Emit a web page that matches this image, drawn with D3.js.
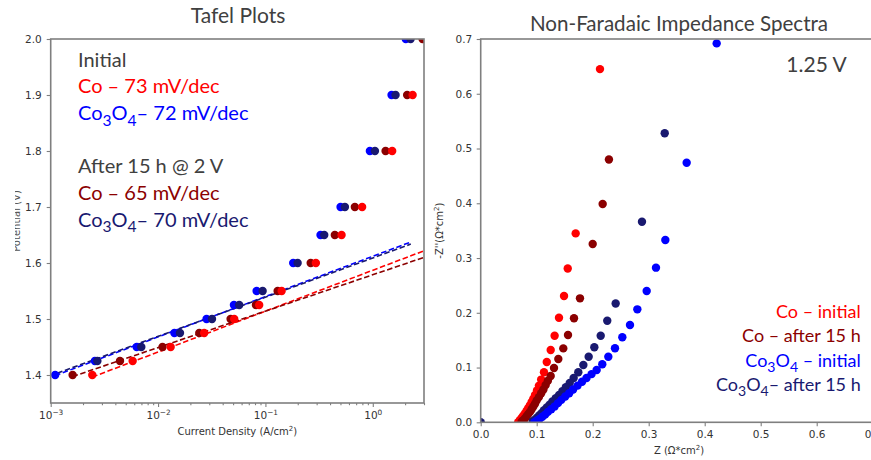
<!DOCTYPE html>
<html>
<head>
<meta charset="utf-8">
<script src="https://cdn.jsdelivr.net/npm/d3@7/dist/d3.min.js"></script>
<style>
  body { margin: 0; background: #fff; }
  svg { display: block; }
</style>
</head>
<body>
<svg id="fig" width="871" height="460"></svg>
<script>
// ---------------- Tafel data (potential in V, current density in A/cm²) ----------------
const tafelPotentials = [1.4, 1.425, 1.45, 1.475, 1.5, 1.525, 1.55, 1.6, 1.65, 1.7, 1.8, 1.9, 2.0];
const tafelCoInitial     = [2.44e-3, 5.8e-3, 1.31e-2, 2.69e-2, 5.12e-2, 8.75e-2, 0.1416, 0.295, 0.512, 0.796, 1.516, 2.35, 3.3];
const tafelCoAfter       = [1.6e-3, 4.42e-3, 1.10e-2, 2.42e-2, 4.74e-2, 8.16e-2, 0.130, 0.264, 0.443, 0.681, 1.316, 2.09, 2.91];
const tafelCo3O4Initial  = [1.10e-3, 2.58e-3, 6.32e-3, 1.42e-2, 2.83e-2, 5.09e-2, 8.28e-2, 0.1815, 0.326, 0.501, 0.940, 1.496, 2.03];
const tafelCo3O4After    = [8.0e-4, 2.72e-3, 6.98e-3, 1.60e-2, 3.18e-2, 5.70e-2, 9.42e-2, 0.1995, 0.353, 0.550, 1.047, 1.63, 2.25];

// Tafel fits: slope in mV/dec, intercept (V at 1 A/cm²), fitted current range
const tafelSlopes     = [73, 65, 72, 70];
const tafelIntercepts = [1.587, 1.579, 1.612, 1.609];
const tafelFitStart   = [2.44e-3, 1.6e-3, 1.1e-3, 1.15e-3];
const tafelFitEnd     = [3.0, 3.0, 2.26, 2.26];

const tafelVoltTicks = [1.4, 1.5, 1.6, 1.7, 1.8, 1.9, 2.0];
const tafelCurrentTicks = [1e-3, 1e-2, 1e-1, 1];

// ---------------- Non-Faradaic impedance data at 1.25 V (Ω·cm²) ----------------
const zReCoInitial = [0.213, 0.1696, 0.1554, 0.1488, 0.1398, 0.132, 0.125, 0.118, 0.113, 0.108, 0.104, 0.1005, 0.097, 0.094, 0.091, 0.088, 0.085, 0.082, 0.079, 0.076, 0.073, 0.070, 0.067];
const zImCoInitial = [0.645, 0.345, 0.281, 0.2306, 0.191, 0.158, 0.132, 0.110, 0.0913, 0.078, 0.067, 0.058, 0.050, 0.043, 0.037, 0.031, 0.026, 0.021, 0.016, 0.012, 0.008, 0.004, 0.000];

const zReCoAfter = [0.229, 0.2178, 0.200, 0.1773, 0.1666, 0.1559, 0.1475, 0.1386, 0.1309, 0.125, 0.120, 0.116, 0.112, 0.108, 0.104, 0.100, 0.097, 0.094, 0.091, 0.088, 0.085, 0.082, 0.079, 0.076, 0.073];
const zImCoAfter = [0.480, 0.3987, 0.3256, 0.2264, 0.190, 0.1594, 0.135, 0.1156, 0.0991, 0.0845, 0.076, 0.068, 0.060, 0.053, 0.046, 0.040, 0.034, 0.029, 0.024, 0.019, 0.015, 0.011, 0.007, 0.004, 0.001];

const zReCo3O4Initial = [0.4214, 0.3678, 0.3297, 0.313, 0.2964, 0.2797, 0.2666, 0.2529, 0.2398, 0.2279, 0.2171, 0.2071, 0.198, 0.189, 0.181, 0.173, 0.165, 0.158, 0.151, 0.144, 0.138, 0.132, 0.126, 0.120, 0.115, 0.110, 0.105, 0.100, 0.096];
const zImCo3O4Initial = [0.692, 0.474, 0.333, 0.2824, 0.2398, 0.2063, 0.1777, 0.1552, 0.1351, 0.1198, 0.1059, 0.0955, 0.088, 0.081, 0.074, 0.067, 0.060, 0.053, 0.047, 0.041, 0.035, 0.029, 0.024, 0.019, 0.014, 0.010, 0.006, 0.003, 0.000];

const zReCo3O4After = [0.3286, 0.288, 0.241, 0.226, 0.2143, 0.2029, 0.1928, 0.1833, 0.1743, 0.166, 0.159, 0.152, 0.146, 0.140, 0.134, 0.128, 0.123, 0.118, 0.113, 0.109, 0.105, 0.101, 0.097, 0.093, 0.0];
const zImCo3O4After = [0.5278, 0.3663, 0.217, 0.1855, 0.158, 0.137, 0.1198, 0.1046, 0.0913, 0.081, 0.072, 0.064, 0.057, 0.050, 0.044, 0.038, 0.032, 0.027, 0.022, 0.017, 0.013, 0.009, 0.005, 0.002, 0.0];

const impedanceTicks = [0, 0.1, 0.2, 0.3, 0.4, 0.5, 0.6, 0.7];

// ---------------- styling ----------------
const C_RED = "#ff0000", C_DRED = "#8b0000", C_BLUE = "#0000ff", C_NAVY = "#191970";
const C_GRAY_TEXT = "#404040";
const SPINE = "#7f7f7f";
const TICK_FONT = "DejaVu Sans, sans-serif";
const NOTE_FONT = "Lato, 'Open Sans', sans-serif";

const svg = d3.select("#fig");
svg.append("rect").attr("width", 871).attr("height", 460).attr("fill", "#fff");
const defs = svg.append("defs");

// rich text helper: parts = [[string, "n"|"sub"|"sup"|"nsub"|"nsup"], ...]
function rich(sel, parts, size, subScale) {
  const sc = subScale || 0.7;
  parts.forEach(([s, kind]) => {
    const t = sel.append("tspan").text(s);
    if (kind === "sub") t.attr("dy", (0.28 * size) + "px").attr("font-size", (size * sc) + "px");
    if (kind === "sup") t.attr("dy", (-0.42 * size) + "px").attr("font-size", (size * 0.7) + "px");
    if (kind === "nsub") t.attr("dy", (-0.28 * size) + "px");
    if (kind === "nsup") t.attr("dy", (0.42 * size) + "px");
  });
  return sel;
}

function styleAxis(g) {
  g.select(".domain").remove();
  g.selectAll(".tick line").attr("stroke", SPINE).attr("stroke-width", 1.1);
  g.selectAll(".tick text").attr("fill", "#333").attr("font-family", TICK_FONT).attr("font-size", "10.5px");
}

function frame(x0, y0, x1, y1) {
  svg.append("rect").attr("x", x0).attr("y", y0).attr("width", x1 - x0).attr("height", y1 - y0)
    .attr("fill", "none").attr("stroke", SPINE).attr("stroke-width", 1.6);
}

// ================= Left panel: Tafel plots =================
const L = { x0: 50.7, x1: 424, y0: 39, y1: 403 };
const xL = d3.scaleLog().domain([1e-3, 3]).range([L.x0, L.x1]);
const yL = d3.scaleLinear().domain([1.35, 2.0]).range([L.y1, L.y0]);

defs.append("clipPath").attr("id", "clipL").append("rect")
  .attr("x", L.x0).attr("y", L.y0).attr("width", L.x1 - L.x0).attr("height", L.y1 - L.y0);

// minor log ticks
const minorTicks = [];
[1e-3, 1e-2, 1e-1, 1].forEach(dec => { for (let k = 2; k <= 9; k++) { const v = dec * k; if (v <= 3) minorTicks.push(v); } });
svg.append("g").attr("transform", `translate(0,${L.y1})`)
  .call(d3.axisBottom(xL).tickValues(minorTicks).tickSize(2.2).tickFormat(() => ""))
  .call(styleAxis);

const gxL = svg.append("g").attr("transform", `translate(0,${L.y1})`)
  .call(d3.axisBottom(xL).tickValues(tafelCurrentTicks).tickSize(4).tickPadding(4.5).tickFormat(() => ""))
  .call(styleAxis);
gxL.selectAll(".tick text").each(function (d) {
  const e = Math.round(Math.log10(d));
  const t = d3.select(this).text(null);
  rich(t, [["10", "n"], [e < 0 ? "\u2212" + (-e) : String(e), "sup"]], 10.5);
});

svg.append("g").attr("transform", `translate(${L.x0},0)`)
  .call(d3.axisLeft(yL).tickValues(tafelVoltTicks).tickSize(4).tickPadding(5).tickFormat(d3.format(".1f")))
  .call(styleAxis);

// fit lines
const tafelColors = [C_RED, C_DRED, C_BLUE, C_NAVY];
const fitG = svg.append("g").attr("clip-path", "url(#clipL)");
tafelSlopes.forEach((s, i) => {
  const f = j => tafelIntercepts[i] + (s / 1000) * Math.log10(j);
  fitG.append("line")
    .attr("x1", xL(tafelFitStart[i])).attr("y1", yL(f(tafelFitStart[i])))
    .attr("x2", xL(tafelFitEnd[i])).attr("y2", yL(f(tafelFitEnd[i])))
    .attr("stroke", tafelColors[i]).attr("stroke-width", 1.6)
    .attr("stroke-dasharray", "5.5,2.6");
});

// data markers (after-series sit on top of their initial pair)
const tafelSeries = [
  { j: tafelCo3O4Initial, c: C_BLUE },
  { j: tafelCo3O4After, c: C_NAVY },
  { j: tafelCoAfter, c: C_DRED },
  { j: tafelCoInitial, c: C_RED }
];
const ptsL = svg.append("g").attr("clip-path", "url(#clipL)");
tafelSeries.forEach(s => {
  ptsL.selectAll(null).data(tafelPotentials.map((v, k) => [s.j[k], v])).enter()
    .append("circle")
    .attr("cx", d => xL(d[0])).attr("cy", d => yL(d[1])).attr("r", 4.2)
    .attr("fill", s.c);
});

frame(L.x0, L.y0, L.x1, L.y1);

// axis labels & title
rich(svg.append("text").attr("x", (L.x0 + L.x1) / 2).attr("y", 435).attr("text-anchor", "middle")
  .attr("font-family", TICK_FONT).attr("font-size", "10px").attr("fill", "#333"),
  [["Current Density (A/cm", "n"], ["2", "sup"], [")", "nsup"]], 10);

// y label sits partly under the page margin, so only its lower strip shows
defs.append("clipPath").attr("id", "clipYL").append("rect").attr("x", 15).attr("y", 0).attr("width", 30).attr("height", 460);
svg.append("g").attr("clip-path", "url(#clipYL)")
  .append("text")
  .attr("transform", `translate(20,${(L.y0 + L.y1) / 2}) rotate(-90)`)
  .attr("text-anchor", "middle").attr("font-family", TICK_FONT).attr("font-size", "10px").attr("fill", "#555")
  .text("Potential (V)");

svg.append("text").attr("x", 238).attr("y", 22.7).attr("text-anchor", "middle")
  .attr("font-family", NOTE_FONT).attr("font-size", "21px").attr("fill", C_GRAY_TEXT).text("Tafel Plots");

// in-plot annotation
const noteSize = 20;
const notes = [
  { y: 66.7, c: C_GRAY_TEXT, parts: [["Initial", "n"]] },
  { y: 93.3, c: C_RED, parts: [["Co \u2013 " + tafelSlopes[0] + " mV/dec", "n"]] },
  { y: 120, c: C_BLUE, parts: [["Co", "n"], ["3", "sub"], ["O", "nsub"], ["4", "sub"], ["\u2013 " + tafelSlopes[2] + " mV/dec", "nsub"]] },
  { y: 173.3, c: C_GRAY_TEXT, parts: [["After 15 h @ 2 V", "n"]] },
  { y: 200, c: C_DRED, parts: [["Co \u2013 " + tafelSlopes[1] + " mV/dec", "n"]] },
  { y: 226.7, c: C_NAVY, parts: [["Co", "n"], ["3", "sub"], ["O", "nsub"], ["4", "sub"], ["\u2013 " + tafelSlopes[3] + " mV/dec", "nsub"]] }
];
notes.forEach(n => {
  rich(svg.append("text").attr("x", 78).attr("y", n.y).attr("font-family", NOTE_FONT)
    .attr("font-size", noteSize + "px").attr("fill", n.c), n.parts, noteSize, 0.78);
});

// ================= Right panel: impedance spectra =================
const R = { x0: 480.7, x1: 872.7, y0: 39, y1: 422.3 };
const xR = d3.scaleLinear().domain([0, 0.7]).range([R.x0, R.x1]);
const yR = d3.scaleLinear().domain([0, 0.7]).range([R.y1, R.y0]);

defs.append("clipPath").attr("id", "clipR").append("rect")
  .attr("x", R.x0).attr("y", R.y0).attr("width", R.x1 - R.x0).attr("height", R.y1 - R.y0);

svg.append("g").attr("transform", `translate(0,${R.y1})`)
  .call(d3.axisBottom(xR).tickValues(impedanceTicks).tickSize(4).tickPadding(4.5).tickFormat(d3.format(".1f")))
  .call(styleAxis);
svg.append("g").attr("transform", `translate(${R.x0},0)`)
  .call(d3.axisLeft(yR).tickValues(impedanceTicks).tickSize(4).tickPadding(4.5).tickFormat(d3.format(".1f")))
  .call(styleAxis);

const impSeries = [
  { re: zReCoInitial, im: zImCoInitial, c: C_RED },
  { re: zReCoAfter, im: zImCoAfter, c: C_DRED },
  { re: zReCo3O4After, im: zImCo3O4After, c: C_NAVY },
  { re: zReCo3O4Initial, im: zImCo3O4Initial, c: C_BLUE }
];
const ptsR = svg.append("g").attr("clip-path", "url(#clipR)");
impSeries.forEach(s => {
  ptsR.selectAll(null).data(s.re.map((v, k) => [v, s.im[k]])).enter()
    .append("circle")
    .attr("cx", d => xR(d[0])).attr("cy", d => yR(d[1])).attr("r", 4.2)
    .attr("fill", s.c);
});

frame(R.x0, R.y0, R.x1, R.y1);

rich(svg.append("text").attr("x", 679).attr("y", 454).attr("text-anchor", "middle")
  .attr("font-family", TICK_FONT).attr("font-size", "10px").attr("fill", "#333"),
  [["Z (\u03A9*cm", "n"], ["2", "sup"], [")", "nsup"]], 10);

rich(svg.append("text").attr("transform", `translate(443,${(R.y0 + R.y1) / 2}) rotate(-90)`)
  .attr("text-anchor", "middle").attr("font-family", TICK_FONT).attr("font-size", "10px").attr("fill", "#333"),
  [["-Z''(\u03A9*cm", "n"], ["2", "sup"], [")", "nsup"]], 10);

svg.append("text").attr("x", 679).attr("y", 30.7).attr("text-anchor", "middle")
  .attr("font-family", NOTE_FONT).attr("font-size", "20.6px").attr("fill", C_GRAY_TEXT).text("Non-Faradaic Impedance Spectra");

svg.append("text").attr("x", 846.7).attr("y", 71.7).attr("text-anchor", "end")
  .attr("font-family", NOTE_FONT).attr("font-size", "21px").attr("fill", C_GRAY_TEXT).text("1.25 V");

const legSize = 18;
const legend = [
  { y: 318.3, c: C_RED, parts: [["Co \u2013 initial", "n"]] },
  { y: 342.3, c: C_DRED, parts: [["Co \u2013 after 15 h", "n"]] },
  { y: 366.7, c: C_BLUE, parts: [["Co", "n"], ["3", "sub"], ["O", "nsub"], ["4", "sub"], [" \u2013 initial", "nsub"]] },
  { y: 391, c: C_NAVY, parts: [["Co", "n"], ["3", "sub"], ["O", "nsub"], ["4", "sub"], ["\u2013 after 15 h", "nsub"]] }
];
legend.forEach(n => {
  rich(svg.append("text").attr("x", 860.7).attr("y", n.y).attr("text-anchor", "end").attr("font-family", NOTE_FONT)
    .attr("font-size", legSize + "px").attr("fill", n.c), n.parts, legSize, 0.78);
});
</script>
</body>
</html>
